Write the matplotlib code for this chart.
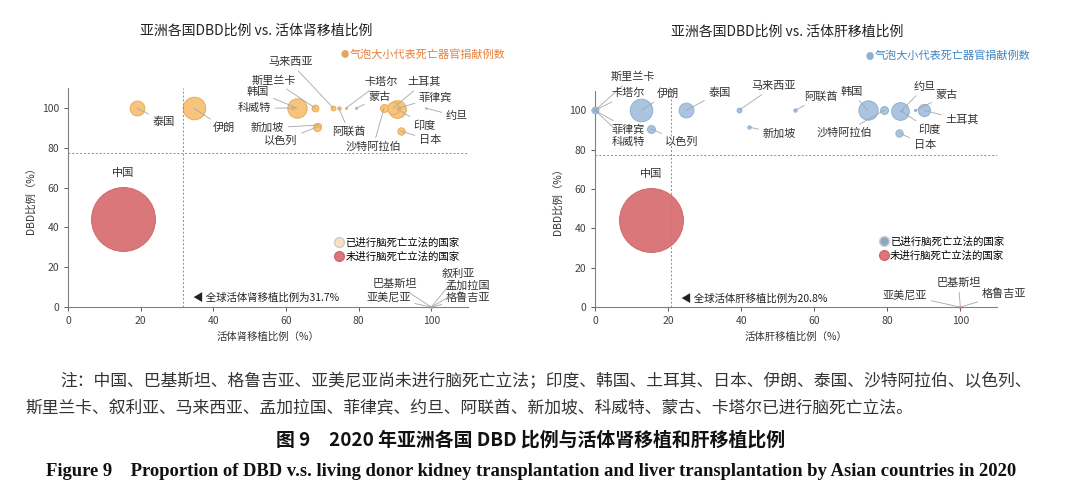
import numpy as np
import matplotlib
matplotlib.use('Agg')
import matplotlib.pyplot as plt
from matplotlib.lines import Line2D

plt.rcParams['font.family'] = ['Noto Sans CJK SC', 'DejaVu Sans']

# ---- data ----
countries = ['中国', '巴基斯坦', '格鲁吉亚', '亚美尼亚', '叙利亚', '孟加拉国',
             '印度', '韩国', '土耳其', '日本', '伊朗', '泰国', '沙特阿拉伯',
             '以色列', '斯里兰卡', '马来西亚', '菲律宾', '约旦', '阿联酋',
             '新加坡', '科威特', '蒙古', '卡塔尔']
no_law = ['中国', '巴基斯坦', '格鲁吉亚', '亚美尼亚']  # (叙利亚, 孟加拉国 drawn with others)

# DBD proportion (%)
dbd = [44.4, 0, 0, 0, 0, 0,
       99.7, 100, 100, 88.5, 100, 100, 100,
       90.5, 100, 100, 100, 100, 100,
       91.5, 100, 100, 100]
# living donor kidney transplantation proportion (%)
kidney_live = [15.1, 100, 100, 100, 100, 100,
               90.5, 63.0, 89.5, 91.6, 34.6, 19.0, 87.0,
               68.5, 68.0, 73.0, 91.0, 98.5, 74.5,
               69.0, 62.0, 79.4, 76.5]
# living donor liver transplantation proportion (%)
liver_live = [15.3, 100, 100, 100, np.nan, np.nan,
              83.6, 74.7, 90.1, 83.3, 12.6, 24.9, 79.2,
              15.3, 0, 39.4, 0, 84.0, 54.8,
              42.2, 0, 87.7, 0]
# deceased donors (bubble size)
donors = [5222, 0, 0, 0, 0, 0,
          400, 478, 190, 68, 650, 280, 80,
          80, 60, 30, 10, 3, 15,
          15, 12, 5, 5]

kidney_global = 31.7
liver_global = 20.8
dbd_global = 77.5

# label placement (x, y, ha) in data units
kidney_labels = {
    '泰国': (23.3, 93, 'left'), '伊朗': (39.8, 90, 'left'),
    '马来西亚': (67.3, 123, 'right'), '斯里兰卡': (62.7, 114, 'right'),
    '韩国': (55.4, 108, 'right'), '科威特': (55.9, 100, 'right'),
    '新加坡': (59.5, 90, 'right'), '以色列': (63.2, 83.3, 'right'),
    '阿联酋': (72.8, 88, 'left'), '卡塔尔': (81.5, 113, 'left'),
    '蒙古': (82.7, 105.5, 'left'), '沙特阿拉伯': (76.3, 80.4, 'left'),
    '土耳其': (93.4, 113, 'left'), '菲律宾': (96.6, 105.5, 'left'),
    '约旦': (104, 95.8, 'left'), '印度': (95, 91.3, 'left'),
    '日本': (96.6, 83.8, 'left'),
    '巴基斯坦': (96.2, 11.8, 'right'), '亚美尼亚': (94.3, 4.7, 'right'),
    '叙利亚': (102.9, 16.8, 'left'), '孟加拉国': (104, 10.9, 'left'),
    '格鲁吉亚': (104, 4.7, 'left'),
}
liver_labels = {
    '斯里兰卡': (4.1, 117, 'left'), '卡塔尔': (4.6, 108.6, 'left'),
    '菲律宾': (4.6, 90.3, 'left'), '科威特': (4.6, 84, 'left'),
    '伊朗': (16.9, 108.6, 'left'), '以色列': (19.2, 84, 'left'),
    '泰国': (31, 109, 'left'), '马来西亚': (42.9, 112.3, 'left'),
    '新加坡': (45.9, 88, 'left'), '阿联酋': (57.3, 106.9, 'left'),
    '韩国': (67.1, 109.4, 'left'), '沙特阿拉伯': (75.8, 88.6, 'right'),
    '约旦': (87.2, 112, 'left'), '蒙古': (93.2, 107.8, 'left'),
    '土耳其': (95.9, 95, 'left'), '印度': (88.6, 90.3, 'left'),
    '日本': (87.2, 82.4, 'left'),
    '巴基斯坦': (99.5, 12.2, 'center'), '亚美尼亚': (90.9, 6.2, 'right'),
    '格鲁吉亚': (105.9, 6.7, 'left'),
}

RED = '#D9777A'
RED_EDGE = '#D0686C'
size_k = 0.405
line_c = '#A6A6A6'


def draw_panel(ax, xvals, labels, face, edge, legend_face, legend_pos,
               global_val, global_text, global_pos):
    xs = np.array(xvals, dtype=float)
    ys = np.array(dbd, dtype=float)
    ss = np.maximum(np.array(donors, dtype=float) * size_k, 1.0)
    order = np.argsort(-ss)
    for i in order:
        if np.isnan(xs[i]):
            continue
        red = countries[i] in no_law
        ax.scatter(xs[i], ys[i], s=ss[i], c=RED if red else face,
                   edgecolors=RED_EDGE if red else edge, linewidths=0.7,
                   zorder=3, clip_on=False)

    # labels with leader lines
    for i, name in enumerate(countries):
        if name not in labels or np.isnan(xs[i]):
            continue
        tx, ty, ha = labels[name]
        ax.annotate(name, xy=(xs[i], ys[i]), xytext=(tx, ty),
                    ha=ha, va='center', fontsize=8, color='#333333',
                    annotation_clip=False,
                    arrowprops=dict(arrowstyle='-', color=line_c, lw=0.6,
                                    shrinkA=1, shrinkB=0))
    ci = countries.index('中国')
    ax.text(xs[ci], 67.5, '中国', ha='center', va='center', fontsize=8,
            color='#333333')

    # global reference lines
    ax.axvline(global_val, ymin=0, ymax=1, color='#8C8C8C', lw=0.7,
               ls=(0, (2, 2)), zorder=4)
    ax.axhline(dbd_global, color='#8C8C8C', lw=0.7, ls=(0, (2, 2)), zorder=4)
    ax.text(global_pos[0], global_pos[1], '◀ ' + global_text, fontsize=7.5,
            va='center', ha='left', color='#222222')

    ax.set_xlim(0, 110)
    ax.set_ylim(0, 110)
    ax.set_xticks([0, 20, 40, 60, 80, 100])
    ax.set_yticks([0, 20, 40, 60, 80, 100])
    for s in ['top', 'right']:
        ax.spines[s].set_visible(False)
    for s in ['left', 'bottom']:
        ax.spines[s].set_color('#808080')
        ax.spines[s].set_linewidth(0.8)
    ax.tick_params(labelsize=7.5, colors='#404040', length=3, width=0.6)
    ax.set_ylabel('DBD比例（%）', fontsize=7.5, color='#333333', labelpad=4)
    ax.patch.set_alpha(0)

    handles = [Line2D([], [], marker='o', ls='', markersize=7,
                      markerfacecolor=legend_face, markeredgecolor='#CCCCCC'),
               Line2D([], [], marker='o', ls='', markersize=7,
                      markerfacecolor=RED, markeredgecolor=RED_EDGE)]
    ax.legend(handles, ['已进行脑死亡立法的国家', '未进行脑死亡立法的国家'],
              loc='upper left', bbox_to_anchor=legend_pos, frameon=False,
              fontsize=7.5, handletextpad=0.1, labelspacing=0.35,
              borderaxespad=0, handlelength=1.0)


fig = plt.figure(figsize=(10.8, 5.01), dpi=100)

ax1 = fig.add_axes([0.063, 0.387, 0.37, 0.437])
draw_panel(ax1, kidney_live, kidney_labels, '#F6C47D', '#E9AD57', '#F9E3BC',
           (0.655, 0.335), kidney_global, '全球活体肾移植比例为31.7%', (34.5, 4.7))
ax1.set_xlabel('活体肾移植比例（%）', fontsize=7.5, color='#333333', labelpad=4)

ax2 = fig.add_axes([0.551, 0.387, 0.372, 0.432])
draw_panel(ax2, liver_live, liver_labels, '#A9C5E0', '#8FB1D4', '#8EA8C3',
           (0.695, 0.345), liver_global, '全球活体肝移植比例为20.8%', (23.5, 4.2))
ax2.set_xlabel('活体肝移植比例（%）', fontsize=7.5, color='#333333', labelpad=4)

# titles and bubble notes
fig.text(256 / 1080, 1 - 31 / 501, '亚洲各国DBD比例 vs. 活体肾移植比例',
         ha='center', va='center', fontsize=10, color='#222222')
fig.text(787 / 1080, 1 - 32 / 501, '亚洲各国DBD比例 vs. 活体肝移植比例',
         ha='center', va='center', fontsize=10, color='#222222')
fig.text(341 / 1080, 1 - 55 / 501, '●', ha='left', va='center', fontsize=6,
         color='#E3A566')
fig.text(350 / 1080, 1 - 55 / 501, '气泡大小代表死亡器官捐献例数', ha='left',
         va='center', fontsize=8, color='#E8803A')
fig.text(866 / 1080, 1 - 56 / 501, '●', ha='left', va='center', fontsize=6,
         color='#8DB0D2')
fig.text(875 / 1080, 1 - 56 / 501, '气泡大小代表死亡器官捐献例数', ha='left',
         va='center', fontsize=8, color='#3D85C6')

# note and captions
note1 = ('注：中国、巴基斯坦、格鲁吉亚、亚美尼亚尚未进行脑死亡立法；印度、韩国、土耳其、'
         '日本、伊朗、泰国、沙特阿拉伯、以色列、')
note2 = '斯里兰卡、叙利亚、马来西亚、孟加拉国、菲律宾、约旦、阿联酋、新加坡、科威特、蒙古、卡塔尔已进行脑死亡立法。'
fig.text(60 / 1080, 1 - 382 / 501, note1, ha='left', va='center',
         fontsize=12.1, color='#333333')
fig.text(25 / 1080, 1 - 409 / 501, note2, ha='left', va='center',
         fontsize=12.1, color='#333333')
fig.text(531 / 1080, 1 - 440 / 501, '图 9　2020 年亚洲各国 DBD 比例与活体肾移植和肝移植比例',
         ha='center', va='center', fontsize=13.6, fontweight='bold', color='#111111')
fig.text(531 / 1080, 1 - 472 / 501,
         'Figure 9    Proportion of DBD v.s. living donor kidney transplantation '
         'and liver transplantation by Asian countries in 2020',
         ha='center', va='center', fontsize=13.4, fontweight='bold',
         family='Liberation Serif', color='#111111')

fig.savefig('out.png', dpi=100)
